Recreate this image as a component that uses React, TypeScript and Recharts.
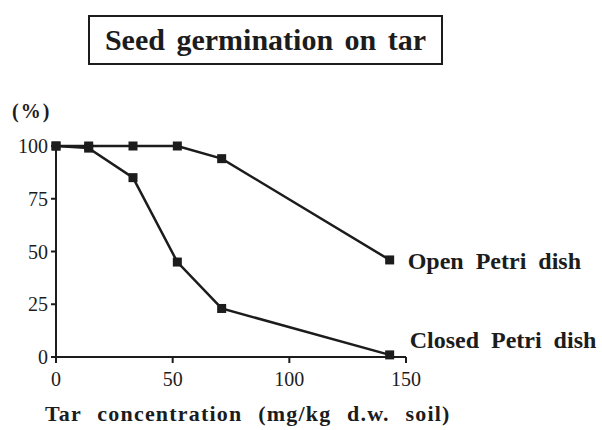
import { LineChart, Line, XAxis, YAxis, LabelList } from "recharts";

// tar concentration (mg/kg d.w. soil)
const concentration = [0, 14, 33, 52, 71, 143];
// germination (%)
const openDish = [100, 100, 100, 100, 94, 46];
const closedDish = [100, 99, 85, 45, 23, 1];

const xTicks = [0, 50, 100, 150];
const yTicks = [0, 25, 50, 75, 100];

const openRows = concentration.map((x, i) => ({ x, y: openDish[i] }));
const closedRows = concentration.map((x, i) => ({ x, y: closedDish[i] }));

const INK = "#1c1c1c";
const SERIF = "'Liberation Serif', 'Times New Roman', serif";

const SquareDot = (props: any) => {
  const { cx, cy } = props;
  if (cx == null || cy == null) return null;
  return <rect x={cx - 4.5} y={cy - 4.5} width={9} height={9} fill={INK} />;
};

const endLabel =
  (text: string, last: number, dx: number, dy: number) => (props: any) => {
    const { x, y, index } = props;
    if (index !== last) return null;
    return (
      <text
        x={x + dx}
        y={y + dy}
        fontFamily={SERIF}
        fontWeight="bold"
        fontSize={24}
        wordSpacing={6}
        fill={INK}
        dominantBaseline="central"
      >
        {text}
      </text>
    );
  };

export default function App() {
  const last = concentration.length - 1;
  return (
    <div
      style={{
        position: "absolute",
        left: 0,
        top: 0,
        width: 602,
        height: 430,
        background: "#fff",
        fontFamily: SERIF,
      }}
    >
      <div
        style={{
          position: "absolute",
          left: 88,
          top: 15,
          width: 355,
          height: 50,
          boxSizing: "border-box",
          border: "2px solid " + INK,
          display: "flex",
          alignItems: "center",
          justifyContent: "center",
          fontWeight: "bold",
          fontSize: 30,
          wordSpacing: 4,
          color: INK,
        }}
      >
        Seed germination on tar
      </div>
      <div
        style={{
          position: "absolute",
          left: 12,
          top: 100,
          fontSize: 20,
          fontWeight: "bold",
          letterSpacing: 2,
          color: INK,
        }}
      >
        (%)
      </div>
      <div
        style={{
          position: "absolute",
          left: 45,
          top: 401,
          fontSize: 22,
          fontWeight: "bold",
          letterSpacing: 1.2,
          wordSpacing: 9,
          color: INK,
          whiteSpace: "nowrap",
        }}
      >
        Tar concentration (mg/kg d.w. soil)
      </div>
      <LineChart
        width={602}
        height={430}
        margin={{ top: 146, right: 196, bottom: 43, left: 0 }}
        style={{ position: "absolute", left: 0, top: 0 }}
      >
        <XAxis
          dataKey="x"
          type="number"
          domain={[0, 150]}
          ticks={xTicks}
          height={30}
          tickSize={6}
          tickMargin={9}
          stroke={INK}
          strokeWidth={2}
          tick={{ fill: INK, fontSize: 20, fontFamily: SERIF }}
          tickLine={{ stroke: INK, strokeWidth: 2 }}
          allowDuplicatedCategory={false}
        />
        <YAxis
          dataKey="y"
          type="number"
          domain={[0, 100]}
          ticks={yTicks}
          width={56}
          tickSize={5}
          tickMargin={3}
          stroke={INK}
          strokeWidth={2}
          tick={{ fill: INK, fontSize: 20, fontFamily: SERIF }}
          tickLine={{ stroke: INK, strokeWidth: 2 }}
        />
        <Line
          data={openRows}
          dataKey="y"
          stroke={INK}
          strokeWidth={2.5}
          dot={<SquareDot />}
          activeDot={false}
          isAnimationActive={false}
        >
          <LabelList dataKey="y" content={endLabel("Open Petri dish", last, 18, 1)} />
        </Line>
        <Line
          data={closedRows}
          dataKey="y"
          stroke={INK}
          strokeWidth={2.5}
          dot={<SquareDot />}
          activeDot={false}
          isAnimationActive={false}
        >
          <LabelList dataKey="y" content={endLabel("Closed Petri dish", last, 20, -15)} />
        </Line>
      </LineChart>
    </div>
  );
}
